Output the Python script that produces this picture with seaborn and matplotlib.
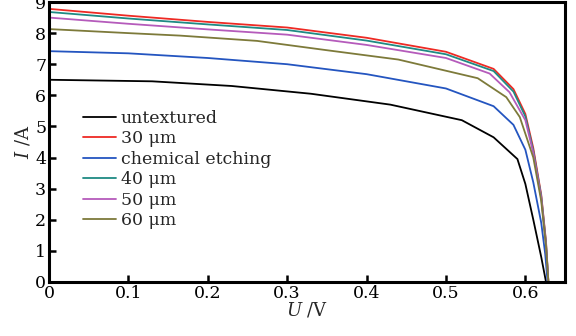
import matplotlib
matplotlib.use("Agg")
import matplotlib.pyplot as plt
import seaborn as sns
import pandas as pd

labels = ["untextured", "30 μm", "chemical etching", "40 μm", "50 μm", "60 μm"]
colors = ["#000000", "#ee2a24", "#2455c0", "#1f8a84", "#b55bbb", "#7d7a3a"]

u_untex = [0.0, 0.13, 0.23, 0.33, 0.43, 0.52, 0.56, 0.59, 0.60, 0.61, 0.62, 0.626]
i_untex = [6.50, 6.45, 6.30, 6.05, 5.70, 5.20, 4.65, 3.95, 3.15, 2.0, 0.8, 0.0]

u_30 = [0.0, 0.1, 0.2, 0.3, 0.4, 0.5, 0.56, 0.585, 0.60, 0.61, 0.62, 0.626, 0.629]
i_30 = [8.78, 8.56, 8.36, 8.18, 7.85, 7.40, 6.85, 6.20, 5.40, 4.30, 2.80, 1.30, 0.0]

u_chem = [0.0, 0.1, 0.2, 0.3, 0.4, 0.5, 0.56, 0.585, 0.60, 0.61, 0.62, 0.625, 0.628]
i_chem = [7.42, 7.35, 7.20, 7.00, 6.68, 6.22, 5.65, 5.05, 4.25, 3.20, 1.90, 0.9, 0.0]

u_40 = [0.0, 0.1, 0.2, 0.3, 0.4, 0.5, 0.56, 0.585, 0.60, 0.61, 0.62, 0.626, 0.629]
i_40 = [8.68, 8.47, 8.28, 8.10, 7.76, 7.32, 6.78, 6.12, 5.32, 4.22, 2.75, 1.25, 0.0]

u_50 = [0.0, 0.1, 0.2, 0.3, 0.4, 0.5, 0.555, 0.58, 0.60, 0.61, 0.62, 0.626, 0.629]
i_50 = [8.50, 8.30, 8.12, 7.95, 7.62, 7.20, 6.70, 6.10, 5.20, 4.15, 2.70, 1.20, 0.0]

u_60 = [0.0, 0.1, 0.165, 0.262, 0.35, 0.44, 0.54, 0.576, 0.593, 0.61, 0.62, 0.626, 0.629]
i_60 = [8.13, 8.00, 7.92, 7.75, 7.45, 7.15, 6.55, 5.94, 5.30, 4.00, 2.60, 1.15, 0.0]

series = [(labels[0], u_untex, i_untex), (labels[1], u_30, i_30), (labels[2], u_chem, i_chem),
          (labels[3], u_40, i_40), (labels[4], u_50, i_50), (labels[5], u_60, i_60)]
rows = []
for name, us, is_ in series:
    for k, (u, i) in enumerate(zip(us, is_)):
        rows.append({"U": u, "I": i, "sample": name, "order": k})
df = pd.DataFrame(rows)

sns.set_theme(style="ticks")
plt.rcParams["font.family"] = ["DejaVu Serif", "DejaVu Sans"]
plt.rcParams["mathtext.fontset"] = "dejavuserif"

fig = plt.figure(figsize=(5.76, 3.36), dpi=100)
ax = fig.add_axes([0.085, 0.161, 0.896, 0.833])
sns.lineplot(data=df, x="U", y="I", hue="sample", hue_order=labels,
             palette=dict(zip(labels, colors)), sort=False, estimator=None,
             linewidth=1.3, ax=ax)

ax.set_xlim(0, 0.65)
ax.set_ylim(0, 9)
ax.set_xticks([0, 0.1, 0.2, 0.3, 0.4, 0.5, 0.6])
ax.set_xticklabels(["0", "0.1", "0.2", "0.3", "0.4", "0.5", "0.6"])
ax.set_yticks(range(0, 10))
ax.tick_params(direction="in", length=5, width=1.8, labelsize=12.5, colors="black",
               top=False, right=False, pad=2)
for s in ax.spines.values():
    s.set_linewidth(2.2)
    s.set_color("black")
ax.set_xlabel("$U$ /V", fontsize=13, labelpad=-1)
ax.set_ylabel("$I$ /A", fontsize=13, labelpad=2)

leg = ax.legend(loc="upper left", bbox_to_anchor=(0.052, 0.64), frameon=False,
                fontsize=12.5, handlelength=1.9, handletextpad=0.3,
                labelspacing=0.2, borderaxespad=0)
for line in leg.get_lines():
    line.set_linewidth(1.3)

fig.savefig("out.png", dpi=100)
